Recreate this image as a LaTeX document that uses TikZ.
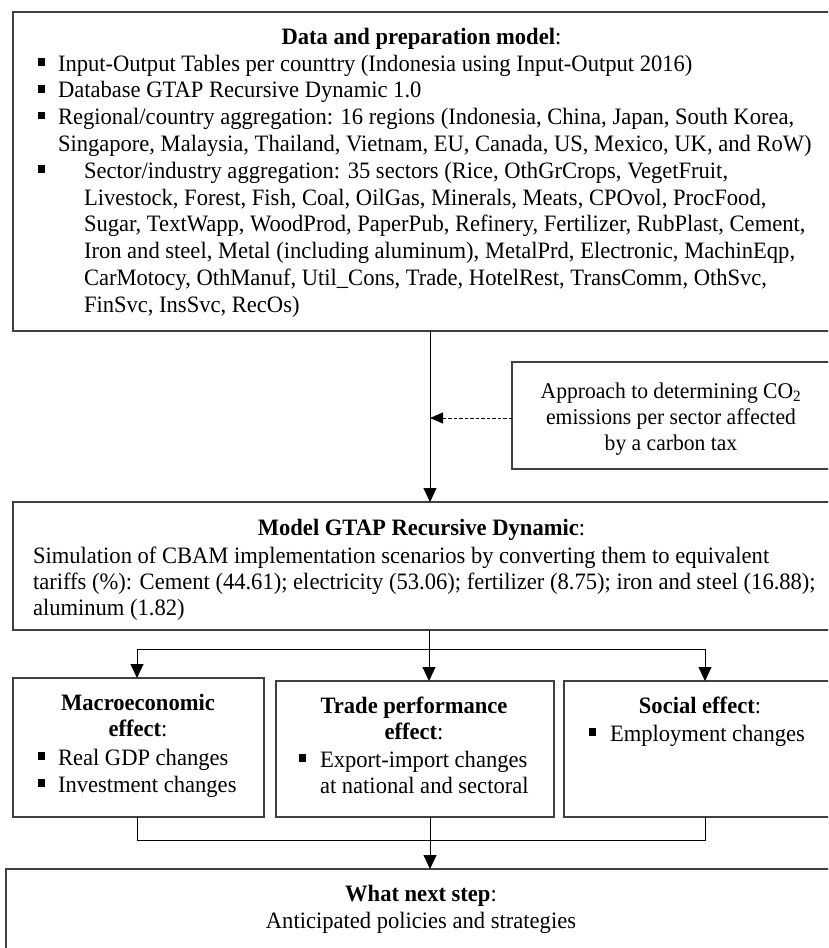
\documentclass[tikz,border=0pt]{standalone}
\usepackage{fontspec}
\setmainfont{Liberation Serif}[FakeStretch=0.96]
\usetikzlibrary{arrows.meta}
\begin{document}
\begin{tikzpicture}[x=1pt,y=-1pt,
  font=\fontsize{23.5}{27}\selectfont,
  box/.style={draw=black!75,line width=1.5pt,rectangle,inner sep=0pt,outer sep=0pt,anchor=north west},
  ln/.style={inner sep=0pt,outer sep=0pt,anchor=base west},
  cn/.style={inner sep=0pt,outer sep=0pt,anchor=base},
  apt/.style={cn,font=\fontsize{22.5}{26}\selectfont},
  bul/.style={fill=black,rectangle,inner sep=0pt,minimum width=7pt,minimum height=7.5pt},
  conn/.style={draw=black,line width=1pt},
  arr/.style={conn,-{Triangle[length=14pt,width=13pt]}},
  dsh/.style={conn,-{Triangle[length=13pt,width=11pt]},dash pattern=on 3.5pt off 2pt}]
\useasboundingbox (0,0) rectangle (828,948);
\clip (0,0) rectangle (828,948);
\fill[white] (0,0) rectangle (828,948);
% boxes
\node[box,minimum width=817pt,minimum height=319pt] (data) at (13,12) {};
\node[box,minimum width=330pt,minimum height=107pt] (appr) at (512,362) {};
\node[box,minimum width=817pt,minimum height=128pt] (model) at (13,502) {};
\node[box,minimum width=251pt,minimum height=139pt] (macro) at (13,678) {};
\node[box,minimum width=278pt,minimum height=136pt] (trade) at (276,681) {};
\node[box,minimum width=270pt,minimum height=136pt] (social) at (564,681) {};
\node[box,minimum width=830pt,minimum height=120pt] (next) at (6,869) {};
% data text
\node[cn] (dt) at (421.5,44.5) {\textbf{Data and preparation model}:};
\node[bul] (db1) at (41,62) {};
\node[ln] (d1) at (58,71) {Input-Output Tables per counttry (Indonesia using Input-Output 2016)};
\node[bul] (db2) at (41,88.8) {};
\node[ln] (d2) at (58,97.8) {Database GTAP Recursive Dynamic 1.0};
\node[bul] (db3) at (41,115.6) {};
\node[ln] (d3) at (58,124.6) {Regional/country aggregation: 16 regions (Indonesia, China, Japan, South Korea,};
\node[ln] (d3b) at (58,151.4) {Singapore, Malaysia, Thailand, Vietnam, EU, Canada, US, Mexico, UK, and RoW)};
\node[bul] (db4) at (41,169.2) {};
\node[ln] (d4) at (84,178.2) {Sector/industry aggregation: 35 sectors (Rice, OthGrCrops, VegetFruit,};
\node[ln] (d4b) at (84,205) {Livestock, Forest, Fish, Coal, OilGas, Minerals, Meats, CPOvol, ProcFood,};
\node[ln] (d4c) at (84,231.8) {Sugar, TextWapp, WoodProd, PaperPub, Refinery, Fertilizer, RubPlast, Cement,};
\node[ln] (d4d) at (84,258.6) {Iron and steel, Metal (including aluminum), MetalPrd, Electronic, MachinEqp,};
\node[ln] (d4e) at (84,285.4) {CarMotocy, OthManuf, Util\_Cons, Trade, HotelRest, TransComm, OthSvc,};
\node[ln] (d4f) at (84,312.2) {FinSvc, InsSvc, RecOs)};
% approach text
\node[apt] (a1) at (671,398) {Approach to determining CO\textsubscript{2}};
\node[apt] (a2) at (671,424) {emissions per sector affected};
\node[apt] (a3) at (671,450) {by a carbon tax};
% model text
\node[cn] (mt) at (421.5,535) {\textbf{Model GTAP Recursive Dynamic}:};
\node[ln] (m1) at (33,563) {Simulation of CBAM implementation scenarios by converting them to equivalent};
\node[ln] (m2) at (33,589) {tariffs (\%): Cement (44.61); electricity (53.06); fertilizer (8.75); iron and steel (16.88);};
\node[ln] (m3) at (33,615) {aluminum (1.82)};
% macro
\node[cn] (mat) at (138,710) {\textbf{Macroeconomic}};
\node[cn] (mat2) at (138,736) {\textbf{effect}:};
\node[bul] (mab1) at (41,756) {};
\node[ln] (ma1) at (58,765) {Real GDP changes};
\node[bul] (mab2) at (41,783) {};
\node[ln] (ma2) at (58,792) {Investment changes};
% trade
\node[cn] (trt) at (414,713) {\textbf{Trade performance}};
\node[cn] (trt2) at (414,739) {\textbf{effect}:};
\node[bul] (trb1) at (302,758) {};
\node[ln] (tr1) at (320,767) {Export-import changes};
\node[ln] (tr2) at (320,793) {at national and sectoral};
% social
\node[cn] (sot) at (700,713) {\textbf{Social effect}:};
\node[bul] (sob1) at (592,732) {};
\node[ln] (so1) at (610,741) {Employment changes};
% next
\node[cn] (nt) at (421,901) {\textbf{What next step}:};
\node[cn] (n1) at (421,928) {Anticipated policies and strategies};
% connectors
\coordinate (vx) at (430,0);
\draw[arr] (vx |- data.south) -- (vx |- model.north);
\coordinate (ap) at ([yshift=-2.5pt]appr.west);
\draw[dsh] (ap) -- (vx |- ap);
\coordinate (jt) at (429,649);
\coordinate (jl) at (137,649);
\coordinate (jr) at (705,649);
\draw[conn] (model.south -| jt) -- (jt);
\draw[conn] (jl) -- (jr);
\draw[arr] (jl) -- (jl |- macro.north);
\draw[arr] (jt) -- (jt |- trade.north);
\draw[arr] (jr) -- (jr |- social.north);
\coordinate (kl) at (137,840);
\coordinate (kr) at (705,840);
\coordinate (kt) at (430,840);
\draw[conn] (macro.south -| kl) -- (kl) -- (kr) -- (social.south -| kr);
\draw[arr] (trade.south -| kt) -- (next.north -| kt);
\end{tikzpicture}
\end{document}
